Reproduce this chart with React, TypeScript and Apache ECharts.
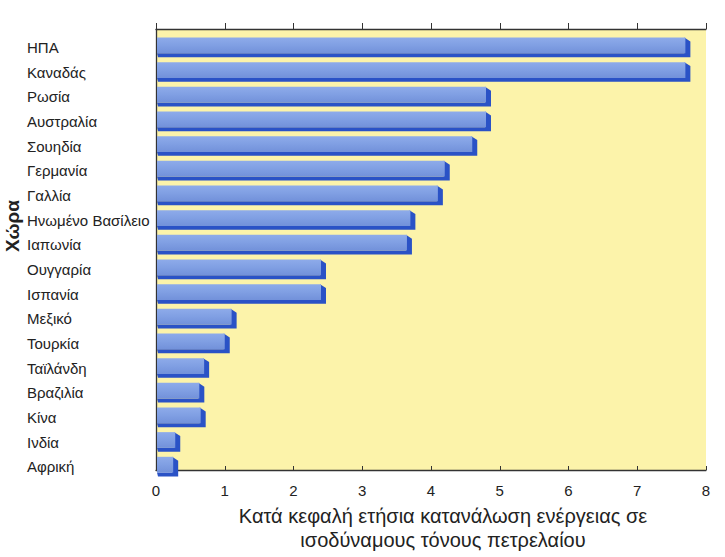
import React, { useEffect, useRef } from "react";
import * as echarts from "echarts";

const countries = [
  "ΗΠΑ",
  "Καναδάς",
  "Ρωσία",
  "Αυστραλία",
  "Σουηδία",
  "Γερμανία",
  "Γαλλία",
  "Ηνωμένο Βασίλειο",
  "Ιαπωνία",
  "Ουγγαρία",
  "Ισπανία",
  "Μεξικό",
  "Τουρκία",
  "Ταϊλάνδη",
  "Βραζιλία",
  "Κίνα",
  "Ινδία",
  "Αφρική",
];

const consumption = [
  7.7, 7.7, 4.8, 4.8, 4.6, 4.2, 4.1, 3.7, 3.65, 2.4, 2.4, 1.1, 1.0, 0.7, 0.63, 0.65, 0.28, 0.25,
];

const xTitle = "Κατά κεφαλή ετήσια κατανάλωση ενέργειας σε\nισοδύναμους τόνους πετρελαίου";
const yTitle = "Χώρα";

const FONT = "Liberation Sans, Arial, Helvetica, sans-serif";

export default function App() {
  const ref = useRef<HTMLDivElement>(null);

  useEffect(() => {
    if (!ref.current) return;
    const chart = echarts.init(ref.current, undefined, { renderer: "svg" });

    const data = consumption.map((v, i) => [v, i]);

    const renderItem = (params: any, api: any) => {
      const v = api.value(0);
      const cat = api.value(1);
      const start = api.coord([0, cat]);
      const end = api.coord([v, cat]);
      const band = api.size([0, 1])[1];
      const c = start[1];
      const ya = c - band * 0.4;
      const yb = c + band * 0.24;
      const dy = band * 0.16;
      const dx = 5;
      const x0 = start[0] + 1;
      const x1 = end[0];
      return {
        type: "group",
        children: [
          {
            type: "polygon",
            shape: {
              points: [
                [x1 - 1, ya],
                [x1 + dx, ya + dy],
                [x1 + dx, yb + dy],
                [x0 + 1, yb + dy],
                [x0, yb],
                [x1 - 1, yb],
              ],
            },
            style: { fill: "#2a52c6" },
          },
          {
            type: "rect",
            shape: { x: x0, y: ya, width: Math.max(x1 - x0, 0), height: yb - ya },
            style: {
              fill: new echarts.graphic.LinearGradient(0, 0, 0, 1, [
                { offset: 0, color: "#8eabea" },
                { offset: 0.5, color: "#809fe3" },
                { offset: 1, color: "#7291da" },
              ]),
            },
          },
        ],
      };
    };

    const option: any = {
      animation: false,
      backgroundColor: "#ffffff",
      textStyle: { fontFamily: FONT },
      grid: [
        {
          left: 156,
          right: 19,
          top: 29,
          bottom: 76,
          show: true,
          backgroundColor: "#fcf3aa",
          borderWidth: 0,
        },
        {
          left: 156,
          right: 19,
          top: 35,
          bottom: 78,
        },
      ],
      xAxis: [
        {
          type: "value",
          gridIndex: 0,
          position: "bottom",
          min: 0,
          max: 8,
          interval: 1,
          axisLine: { show: true, lineStyle: { color: "#333", width: 1.3 } },
          axisTick: { show: true, inside: true, length: 4, lineStyle: { color: "#333" } },
          splitLine: { show: false },
          axisLabel: { color: "#222", fontSize: 15, margin: 13, fontFamily: FONT },
          name: xTitle,
          nameLocation: "middle",
          nameGap: 34,
          nameTextStyle: {
            color: "#222",
            fontSize: 20,
            lineHeight: 24,
            fontFamily: FONT,
            padding: [0, 0, 0, 24],
          },
        },
        {
          type: "value",
          gridIndex: 0,
          position: "top",
          min: 0,
          max: 8,
          interval: 1,
          axisLine: { show: true, lineStyle: { color: "#333", width: 1.3 } },
          axisTick: { show: true, inside: false, length: 6, lineStyle: { color: "#333" } },
          splitLine: { show: false },
          axisLabel: { show: false },
        },
        {
          type: "value",
          gridIndex: 1,
          min: 0,
          max: 8,
          interval: 1,
          show: false,
        },
      ],
      yAxis: [
        {
          type: "value",
          gridIndex: 0,
          min: 0,
          max: 1,
          axisLine: { show: true, lineStyle: { color: "#333", width: 1.3 } },
          axisTick: { show: false },
          axisLabel: { show: false },
          splitLine: { show: false },
        },
        {
          type: "category",
          gridIndex: 1,
          data: countries,
          inverse: true,
          axisLine: { show: false },
          axisTick: { show: false },
          splitLine: { show: false },
          axisLabel: {
            color: "#222",
            fontSize: 15,
            align: "left",
            margin: 129,
            fontFamily: FONT,
          },
        },
      ],
      graphic: [
        {
          type: "text",
          x: 12,
          y: 226,
          rotation: Math.PI / 2,
          style: {
            text: yTitle,
            font: `bold 19px ${FONT}`,
            fill: "#222",
            align: "center",
            verticalAlign: "middle",
          },
        },
      ],
      series: [
        {
          type: "custom",
          xAxisIndex: 2,
          yAxisIndex: 1,
          renderItem,
          encode: { x: 0, y: 1 },
          data,
          clip: false,
        },
      ],
    };

    chart.setOption(option);
    return () => chart.dispose();
  }, []);

  return <div ref={ref} style={{ width: 725, height: 557, position: "absolute", left: 0, top: 0 }} />;
}
